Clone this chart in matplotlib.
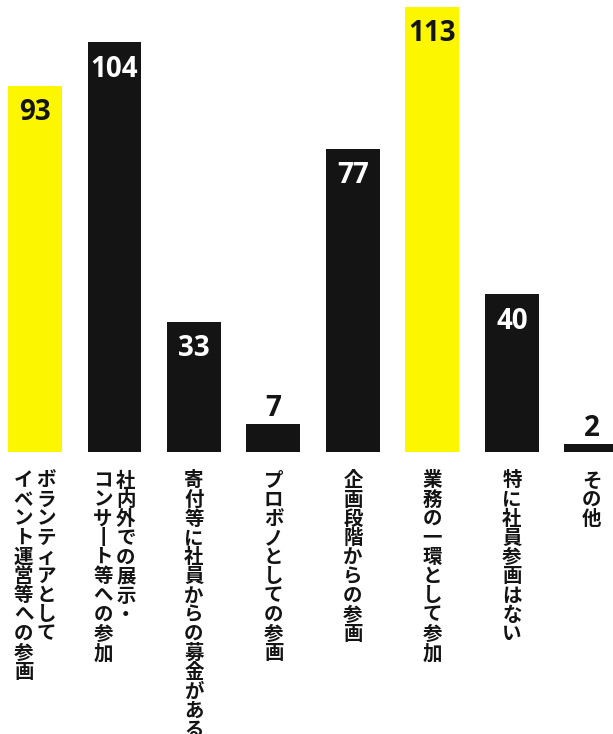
import matplotlib
matplotlib.use("Agg")
import matplotlib.pyplot as plt

plt.rcParams['font.family'] = ['Noto Sans CJK JP', 'DejaVu Sans']

# Survey answers: how employees take part (multiple answers allowed)
categories = [
    ["ボランティアとして", "イベント運営等への参画"],
    ["社内外での展示・", "コンサート等への参加"],
    ["寄付等に社員からの募金がある"],
    ["プロボノとしての参画"],
    ["企画段階からの参画"],
    ["業務の一環として参加"],
    ["特に社員参画はない"],
    ["その他"],
]
values = [93, 104, 33, 7, 77, 113, 40, 2]
highlight = [True, False, False, False, False, True, False, False]

YELLOW = "#fcf600"
BLACK = "#141414"

W, H = 613, 734
DPI = 100
fig = plt.figure(figsize=(W / DPI, H / DPI), dpi=DPI)

base_px = 452          # baseline position from top, pixels
ax = fig.add_axes([0, (H - base_px) / H, 1, base_px / H])
step_px = 79.5
first_px = 35
ax.set_xlim(-first_px / step_px, (W - first_px) / step_px)
ax.set_ylim(0, base_px / 3.94)
ax.axis("off")

xs = list(range(len(values)))
colors = [YELLOW if h else BLACK for h in highlight]
bars = ax.bar(xs, values, width=54 / step_px, color=colors, linewidth=0)

num_font = dict(family="Open Sans", fontweight="bold", fontsize=20)
for x, v, h in zip(xs, values, highlight):
    if v >= 20:
        ax.annotate(str(v), xy=(x, v), xytext=(0, -9), textcoords="offset points",
                    ha="center", va="top", color=BLACK if h else "white", **num_font)
    else:
        ax.annotate(str(v), xy=(x, v), xytext=(0, 1), textcoords="offset points",
                    ha="center", va="bottom", color=BLACK, **num_font)


def vertical(s):
    # stack characters top to bottom; the long-vowel mark turns upright
    return "\n".join("丨" if c == "ー" else c for c in s)


col_gap = 16.5  # points between columns
for x, cols in zip(xs, categories):
    n = len(cols)
    for j, col in enumerate(cols):
        # first column on the right (vertical writing reads right to left)
        off = (n - 1) / 2 * col_gap - j * col_gap
        ax.annotate(vertical(col), xy=(x, 0), xytext=(off, -14),
                    textcoords="offset points", ha="center", va="top",
                    fontsize=14, fontweight="bold", linespacing=1.01,
                    color=BLACK, annotation_clip=False)

fig.savefig("out.png", dpi=DPI)
